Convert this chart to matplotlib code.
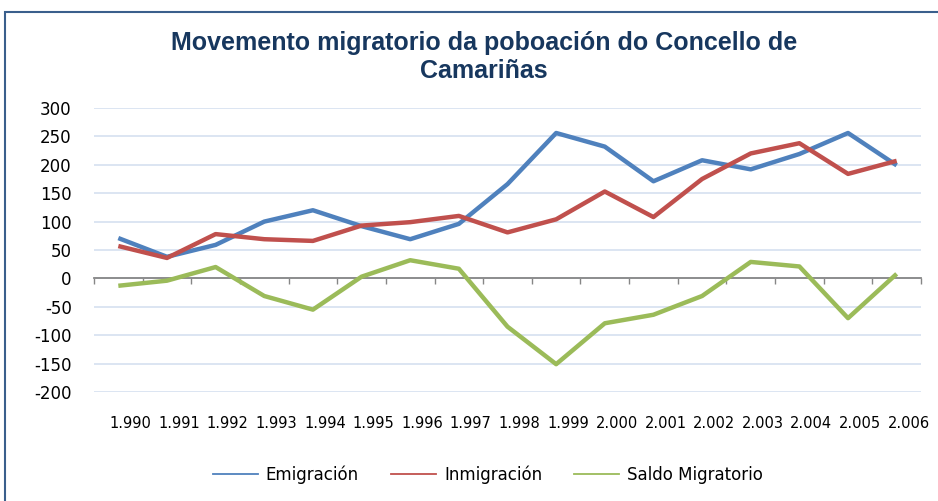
import matplotlib
matplotlib.use("Agg")
import matplotlib.pyplot as plt
import matplotlib.transforms as mtransforms
from matplotlib.lines import Line2D
from matplotlib.patches import Rectangle
from matplotlib.ticker import FixedLocator

plt.rcParams["axes.unicode_minus"] = False

# --- data ---
years = ["1.990", "1.991", "1.992", "1.993", "1.994", "1.995", "1.996", "1.997", "1.998",
         "1.999", "2.000", "2.001", "2.002", "2.003", "2.004", "2.005", "2.006"]
emigracion = [71, 38, 59, 100, 120, 92, 69, 96, 166, 256, 232, 171, 208, 192, 219, 256, 199]
inmigracion = [57, 36, 78, 69, 66, 93, 99, 110, 81, 104, 153, 108, 175, 220, 238, 184, 207]
saldo = [-13, -4, 20, -31, -55, 3, 32, 17, -85, -151, -79, -64, -31, 29, 21, -70, 8]
yticks = [300, 250, 200, 150, 100, 50, 0, -50, -100, -150, -200]

C_EMI = "#4F81BD"
C_INM = "#C0504D"
C_SAL = "#9BBB59"
C_GRID = "#D9E3F1"
C_TITLE = "#17375E"

fig = plt.figure(figsize=(9.38, 5.01), dpi=100)
ax = fig.add_axes([94 / 938, 1 - 392 / 501, (921 - 94) / 938, (392 - 108) / 501])

x = list(range(len(years)))
for vals, col in [(emigracion, C_EMI), (inmigracion, C_INM), (saldo, C_SAL)]:
    ax.plot(x, vals, color=col, lw=3.2, solid_joinstyle="round", solid_capstyle="butt", zorder=3)

ax.set_xlim(-0.5, len(years) - 0.5)
ax.set_ylim(-200, 300)
ax.set_yticks(yticks)
ax.yaxis.grid(True, color=C_GRID, lw=1.3)
ax.set_axisbelow(True)
for s in ["top", "right", "left"]:
    ax.spines[s].set_visible(False)
ax.tick_params(axis="y", length=0, pad=16, labelsize=12)

# category axis sits on y = 0, small tick marks between categories
ax.spines["bottom"].set_position(("data", 0))
ax.spines["bottom"].set_color("#868686")
ax.spines["bottom"].set_linewidth(1.3)
ax.set_xticks([])
ax.xaxis.set_minor_locator(FixedLocator([i - 0.5 for i in range(len(years) + 1)]))
ax.tick_params(axis="x", which="minor", length=4, width=1, color="#868686", direction="out")

# year labels at the low position below the plot (shifted right like the original)
sec = ax.secondary_xaxis(-0.085)
sec.set_xticks(x)
sec.set_xticklabels(years)
sec.tick_params(length=0, pad=0, labelsize=10.5)
sec.spines["bottom"].set_visible(False)
shift = mtransforms.ScaledTranslation(12 / 100, 0, fig.dpi_scale_trans)
for lab in sec.get_xticklabels():
    lab.set_transform(lab.get_transform() + shift)

fig.text(0.516, 1 - 57 / 501, "Movemento migratorio da poboación do Concello de\nCamariñas",
         ha="center", va="center", fontsize=18, fontweight="bold", color=C_TITLE,
         family="Liberation Sans", linespacing=1.2)

handles = [Line2D([], [], color=C_EMI, lw=1.3),
           Line2D([], [], color=C_INM, lw=1.3),
           Line2D([], [], color=C_SAL, lw=1.3)]
fig.legend(handles, ["Emigración", "Inmigración", "Saldo Migratorio"], loc="center",
           bbox_to_anchor=(0.52, 1 - 475 / 501), ncol=3, frameon=False, fontsize=12,
           handlelength=2.7, handletextpad=0.5, columnspacing=1.9)

fig.add_artist(Rectangle((5 / 938, -0.1), 2, 1 - 12 / 501 + 0.1, transform=fig.transFigure,
                         fill=False, edgecolor="#3A5F8C", lw=1.5))

fig.savefig("out.png", dpi=100)
